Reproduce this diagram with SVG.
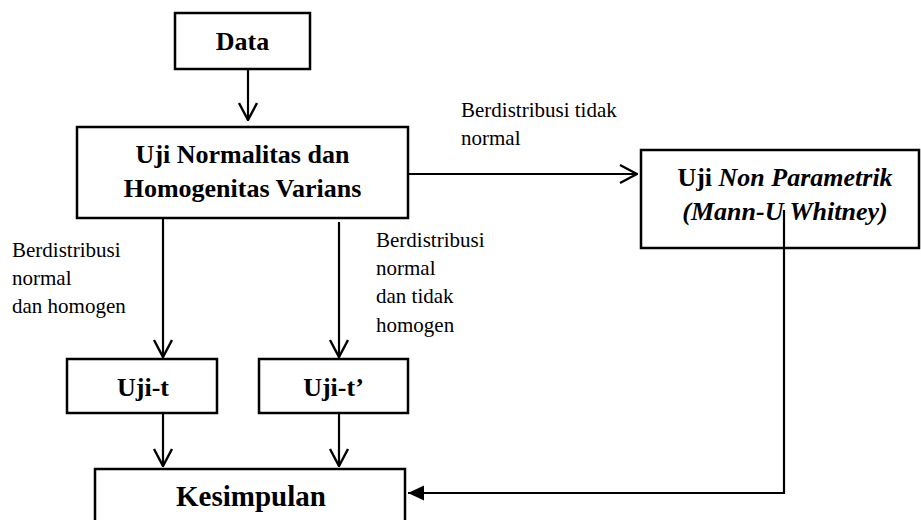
<svg xmlns="http://www.w3.org/2000/svg" width="921" height="520" viewBox="0 0 921 520">
  <style>
    .box { fill: #ffffff; stroke: #000000; stroke-width: 2.5; }
    .title { font-family: "Liberation Serif", "Times New Roman", serif; font-weight: bold; font-size: 26px; fill: #000000; text-anchor: middle; }
    .big { font-size: 29px; }
    .lbl { font-family: "Liberation Serif", "Times New Roman", serif; font-size: 21px; fill: #000000; }
    .con { fill: none; stroke: #000000; stroke-width: 2.2; }
  </style>
  <defs>
    <marker id="open" markerUnits="userSpaceOnUse" viewBox="0 0 20 22" refX="19" refY="11" markerWidth="20" markerHeight="22" orient="auto">
      <path d="M2,2 L19,11 L2,20" fill="none" stroke="#000000" stroke-width="2.4"/>
    </marker>
    <marker id="solid" markerUnits="userSpaceOnUse" viewBox="0 0 16 16" refX="16" refY="8" markerWidth="16" markerHeight="16" orient="auto">
      <path d="M0,0.5 L16,8 L0,15.5 Z" fill="#000000"/>
    </marker>
  </defs>
  <rect width="921" height="520" fill="#ffffff"/>

  <g id="connectors">
    <path class="con" d="M248,69 V120" marker-end="url(#open)"/>
    <path class="con" d="M408,174 H637" marker-end="url(#open)"/>
    <path class="con" d="M163,219 V357" marker-end="url(#open)"/>
    <path class="con" d="M339,222 V357" marker-end="url(#open)"/>
    <path class="con" d="M163,413 V466" marker-end="url(#open)"/>
    <path class="con" d="M339,413 V466" marker-end="url(#open)"/>
    <path class="con" d="M784,210 V493 H408" marker-end="url(#solid)"/>
  </g>

  <g id="data">
    <rect class="box" x="175" y="13" width="135" height="56"/>
    <text class="title" x="242.5" y="50">Data</text>
  </g>

  <g id="normalitas">
    <rect class="box" x="77" y="127" width="331" height="91"/>
    <text class="title" x="242.5" y="163">Uji Normalitas dan</text>
    <text class="title" x="242.5" y="197">Homogenitas Varians</text>
  </g>

  <g id="nonparametrik">
    <rect class="box" x="641" y="150" width="278" height="98"/>
    <text class="title" x="785" y="186">Uji <tspan font-style="italic">Non Parametrik</tspan></text>
    <text class="title" x="785" y="220" font-style="italic">(Mann-U Whitney)</text>
  </g>
  <path d="M784,210 V248" class="con"/>

  <g id="ujit">
    <rect class="box" x="67" y="359" width="150" height="54"/>
    <text class="title" x="143" y="396">Uji-t</text>
  </g>

  <g id="ujit2">
    <rect class="box" x="259" y="359" width="149" height="54"/>
    <text class="title" x="333.5" y="396">Uji-t’</text>
  </g>

  <g id="kesimpulan">
    <rect class="box" x="95" y="469" width="310" height="70"/>
    <text class="title big" x="251" y="506">Kesimpulan</text>
  </g>

  <g id="labels">
    <text class="lbl" x="461" y="117">Berdistribusi tidak</text>
    <text class="lbl" x="461" y="145">normal</text>
    <text class="lbl" x="12" y="256.5">Berdistribusi</text>
    <text class="lbl" x="12" y="285">normal</text>
    <text class="lbl" x="12" y="313">dan homogen</text>
    <text class="lbl" x="376" y="246.5">Berdistribusi</text>
    <text class="lbl" x="376" y="275">normal</text>
    <text class="lbl" x="376" y="303">dan tidak</text>
    <text class="lbl" x="376" y="331.5">homogen</text>
  </g>
</svg>
